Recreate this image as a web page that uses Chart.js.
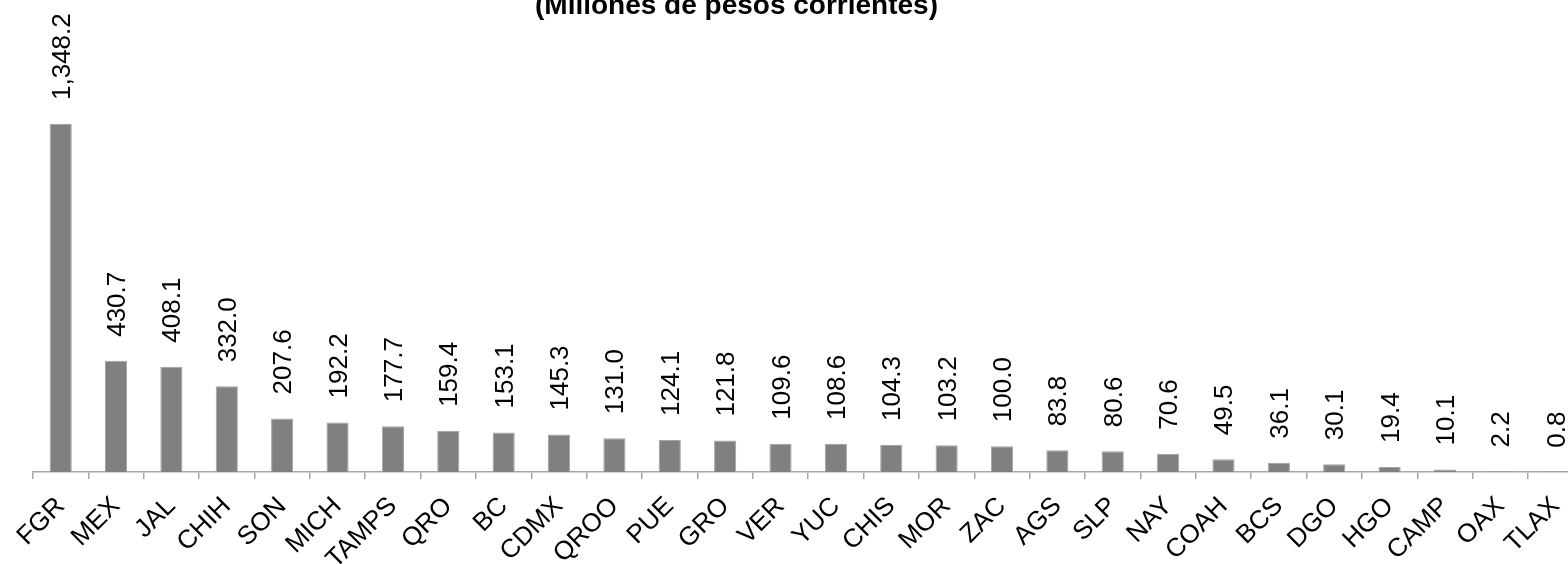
<!DOCTYPE html>
<html>
<head>
<meta charset="utf-8">
<script src="https://cdn.jsdelivr.net/npm/chart.js@4/dist/chart.umd.min.js"></script>
<style>
    html, body { margin: 0; padding: 0; background: #fff; overflow: hidden; }
    #wrap { position: absolute; left: 0; top: 0; width: 1600px; height: 600px; }
    #title {
        position: absolute; top: -9px; left: 535px; width: 400px;
        font: bold 28px "Liberation Sans", Arial, sans-serif; line-height: 28px;
        text-align: center; white-space: nowrap; color: #000;
    }
</style>
</head>
<body>
<div id="wrap"><canvas id="chart"></canvas></div>
<div id="title">(Millones de pesos corrientes)</div>
<script>
    // --- Data ---
    const estados = ['FGR', 'MEX', 'JAL', 'CHIH', 'SON', 'MICH', 'TAMPS', 'QRO', 'BC', 'CDMX',
        'QROO', 'PUE', 'GRO', 'VER', 'YUC', 'CHIS', 'MOR', 'ZAC', 'AGS', 'SLP',
        'NAY', 'COAH', 'BCS', 'DGO', 'HGO', 'CAMP', 'OAX', 'TLAX'];
    const montos = [1348.2, 430.7, 408.1, 332.0, 207.6, 192.2, 177.7, 159.4, 153.1, 145.3,
        131.0, 124.1, 121.8, 109.6, 108.6, 104.3, 103.2, 100.0, 83.8, 80.6,
        70.6, 49.5, 36.1, 30.1, 19.4, 10.1, 2.2, 0.8];

    const fontFamily = '"Liberation Sans", Arial, sans-serif';

    function formatValue(v) {
        return v.toLocaleString('en-US', { minimumFractionDigits: 1, maximumFractionDigits: 1 });
    }

    // vertical value labels above each bar
    const barLabels = {
        id: 'barLabels',
        afterDatasetsDraw(chart) {
            const c = chart.ctx;
            const meta = chart.getDatasetMeta(0);
            c.save();
            c.fillStyle = '#000';
            c.font = '26px ' + fontFamily;
            c.textAlign = 'left';
            c.textBaseline = 'alphabetic';
            meta.data.forEach((bar, i) => {
                c.save();
                c.translate(bar.x, bar.y - 24);
                c.rotate(-Math.PI / 2);
                c.fillText(formatValue(montos[i]), 0, 9);
                c.restore();
            });
            c.restore();
        }
    };

    new Chart(document.getElementById('chart'), {
        type: 'bar',
        data: {
            labels: estados,
            datasets: [{
                data: montos,
                backgroundColor: '#808080',
                borderColor: '#a3a3a3',
                borderWidth: 1,
                barPercentage: 0.4,
                categoryPercentage: 1.0
            }]
        },
        options: {
            responsive: true,
            maintainAspectRatio: false,
            animation: false,
            layout: { padding: { left: 33, right: 16.6, top: 59, bottom: 0 } },
            plugins: {
                legend: { display: false },
                tooltip: { enabled: false }
            },
            scales: {
                x: {
                    afterFit: (scale) => { scale.height = 128; },
                    border: { display: true, color: '#a6a6a6', width: 1.5 },
                    grid: {
                        offset: true,
                        drawOnChartArea: false,
                        drawTicks: true,
                        tickLength: 7,
                        color: '#a6a6a6',
                        lineWidth: 1.5
                    },
                    ticks: {
                        color: '#000',
                        font: { family: fontFamily, size: 26 },
                        minRotation: 45,
                        maxRotation: 45,
                        autoSkip: false,
                        padding: 12
                    }
                },
                y: {
                    display: false,
                    min: 0,
                    max: 1600
                }
            }
        },
        plugins: [barLabels]
    });
</script>
</body>
</html>
